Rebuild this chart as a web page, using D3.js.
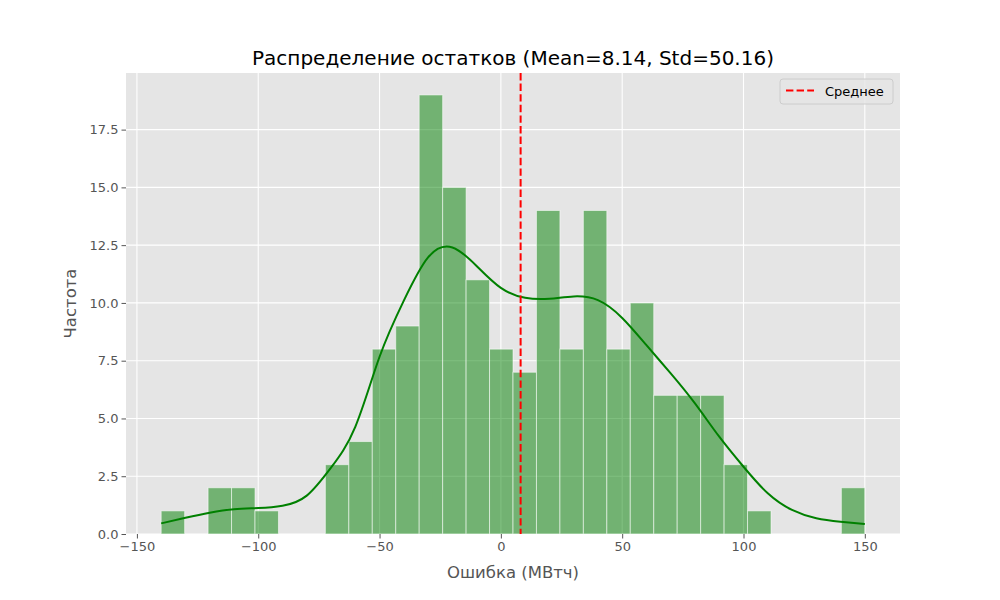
<!DOCTYPE html>
<html>
<head>
<meta charset="utf-8">
<script src="https://cdn.jsdelivr.net/npm/d3@7"></script>
<style>
  body { margin: 0; background: #fff; }
  svg { font-family: "DejaVu Sans", sans-serif; }
</style>
</head>
<body>
<svg id="chart" width="1000" height="600"></svg>
<script>
// histogram counts, 30 bins between binLo and binHi
const binLo = -140, binHi = 150;
const counts = [1, 0, 2, 2, 1, 0, 0, 3, 4, 8, 9, 19, 15, 11, 8, 7, 14, 8, 14, 8, 10, 6, 6, 6, 3, 1, 0, 0, 0, 2];

// kde curve
const kdeX = [-140, -130, -120, -110, -100, -90, -80, -70, -60, -50, -40, -30, -20, -10, 0, 10, 20, 30, 40, 50, 60, 70, 80, 90, 100, 110, 120, 130, 140, 150];
const kdeY = [0.46, 0.70, 0.92, 1.07, 1.12, 1.22, 1.66, 2.87, 4.64, 7.67, 10.1, 11.97, 12.4, 11.6, 10.65, 10.22, 10.18, 10.28, 10.12, 9.35, 8.17, 6.95, 5.65, 4.21, 2.91, 1.76, 1.04, 0.68, 0.53, 0.43];

const meanVal = 8.14, stdVal = 50.16;
const xTicks = [-150, -100, -50, 0, 50, 100, 150];
const yTicks = [0, 2.5, 5, 7.5, 10, 12.5, 15, 17.5];

const svg = d3.select("#chart");
let margin = {top: 73, right: 100, bottom: 66, left: 126},
  width = 1000 - margin.left - margin.right,
  height = 600 - margin.top - margin.bottom;

let g = svg.append("g").attr("transform", `translate(${margin.left}, ${margin.top})`);

let x = d3.scaleLinear().domain([-154.5, 164.5]).range([0, width]);
let y = d3.scaleLinear().domain([0, 19.95]).range([height, 0]);

// background
g.append("rect").attr("width", width).attr("height", height).attr("fill", "#e5e5e5");

// grid
g.selectAll(".gx").data(xTicks).join("line")
  .attr("x1", d => x(d)).attr("x2", d => x(d))
  .attr("y1", 0).attr("y2", height)
  .attr("stroke", "#fff").attr("stroke-width", 1.1);
g.selectAll(".gy").data(yTicks).join("line")
  .attr("y1", d => y(d)).attr("y2", d => y(d))
  .attr("x1", 0).attr("x2", width)
  .attr("stroke", "#fff").attr("stroke-width", 1.1);

// bars
let bw = (binHi - binLo) / counts.length;
let bins = counts.map((c, i) => ({x0: binLo + i * bw, x1: binLo + (i + 1) * bw, n: c}));
g.selectAll(".bar").data(bins.filter(d => d.n > 0)).join("rect")
  .attr("x", d => x(d.x0))
  .attr("y", d => y(d.n))
  .attr("width", d => x(d.x1) - x(d.x0))
  .attr("height", d => y(0) - y(d.n))
  .attr("fill", "green").attr("fill-opacity", 0.5)
  .attr("stroke", "#fff").attr("stroke-opacity", 0.55).attr("stroke-width", 1);

// kde
let line = d3.line().x((d, i) => x(kdeX[i])).y(d => y(d)).curve(d3.curveNatural);
g.append("path").datum(kdeY)
  .attr("d", line)
  .attr("fill", "none").attr("stroke", "green").attr("stroke-width", 2);

// mean line
g.append("line")
  .attr("x1", x(meanVal)).attr("x2", x(meanVal))
  .attr("y1", 0).attr("y2", height)
  .attr("stroke", "red").attr("stroke-width", 2).attr("stroke-dasharray", "7.4,3.2");

// axes
let xAxis = g.append("g").attr("transform", `translate(0, ${height})`)
  .call(d3.axisBottom(x).tickValues(xTicks).tickSize(4.5).tickPadding(3).tickFormat(d3.format("")));
let yAxis = g.append("g")
  .call(d3.axisLeft(y).tickValues(yTicks).tickSize(4.5).tickPadding(3).tickFormat(d3.format(".1f")));
[xAxis, yAxis].forEach(a => {
  a.select(".domain").remove();
  a.selectAll(".tick line").attr("stroke", "#555");
  a.selectAll(".tick text").attr("fill", "#555").style("font-size", "13px")
    .style("font-family", "DejaVu Sans");
});
xAxis.selectAll(".tick text").text(d => d < 0 ? "\u2212" + Math.abs(d) : d);

// labels
svg.append("text")
  .attr("x", margin.left + width / 2).attr("y", 578)
  .attr("text-anchor", "middle").attr("fill", "#555").style("font-size", "16.5px")
  .text("Ошибка (МВтч)");
svg.append("text")
  .attr("transform", `translate(76, ${margin.top + height / 2}) rotate(-90)`)
  .attr("text-anchor", "middle").attr("fill", "#555").style("font-size", "16.5px")
  .text("Частота");
svg.append("text")
  .attr("x", margin.left + width / 2).attr("y", 65)
  .attr("text-anchor", "middle").attr("fill", "#000").style("font-size", "20px")
  .text(`Распределение остатков (Mean=${meanVal}, Std=${stdVal})`);

// legend
let lg = g.append("g").attr("transform", `translate(${width - 120}, 6)`);
lg.append("rect").attr("width", 113).attr("height", 25).attr("rx", 3)
  .attr("fill", "#e5e5e5").attr("fill-opacity", 0.8).attr("stroke", "#cccccc").attr("stroke-width", 1);
lg.append("line").attr("x1", 6).attr("x2", 34).attr("y1", 11.5).attr("y2", 11.5)
  .attr("stroke", "red").attr("stroke-width", 2).attr("stroke-dasharray", "7.4,3.2");
lg.append("text").attr("x", 45).attr("y", 16.5).style("font-size", "13px").attr("fill", "#000")
  .text("Среднее");
</script>
</body>
</html>
